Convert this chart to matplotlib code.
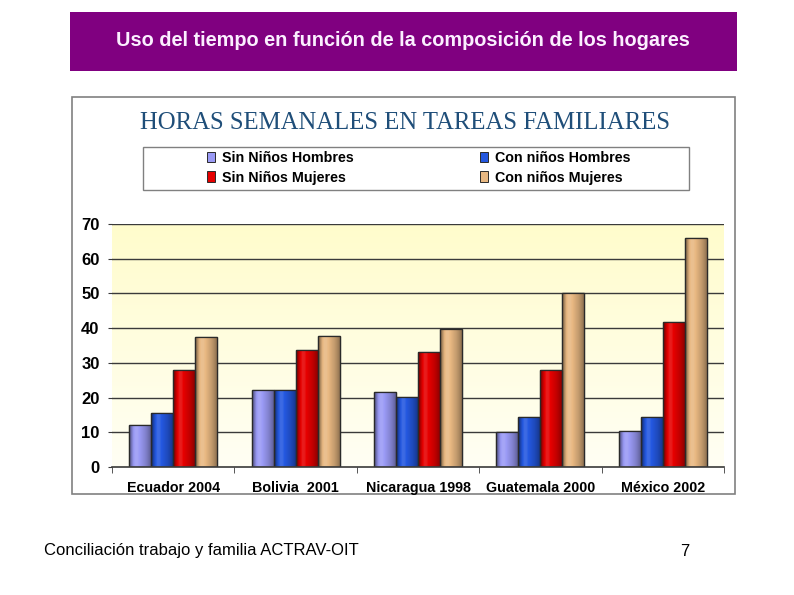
import numpy as np
import matplotlib
matplotlib.use("Agg")
import matplotlib.pyplot as plt
from matplotlib.patches import Rectangle
from matplotlib.colors import to_rgb

categories = ["Ecuador 2004", "Bolivia  2001", "Nicaragua 1998", "Guatemala 2000", "México 2002"]
series_names = ["Sin Niños Hombres", "Con niños Hombres", "Sin Niños Mujeres", "Con niños Mujeres"]
sin_ninos_hombres = [12.2, 22.1, 21.6, 10.2, 10.5]
con_ninos_hombres = [15.6, 22.1, 20.1, 14.5, 14.5]
sin_ninos_mujeres = [28.0, 33.6, 33.2, 28.0, 41.7]
con_ninos_mujeres = [37.5, 37.8, 39.8, 50.2, 66.0]
y_ticks = [0, 10, 20, 30, 40, 50, 60, 70]

series_values = [sin_ninos_hombres, con_ninos_hombres, sin_ninos_mujeres, con_ninos_mujeres]
colors = ["#9a9af5", "#2458e0", "#e60000", "#e8b882"]

W, H = 794, 595
fig = plt.figure(figsize=(W / 100, H / 100), dpi=100)
fig.patch.set_facecolor("white")

def fx(x):
    return x / W

def fy(y):
    return 1 - y / H

# Header box
fig.patches.append(Rectangle((fx(70), fy(71)), fx(737) - fx(70), fy(12) - fy(71),
                             transform=fig.transFigure, facecolor="#800080",
                             edgecolor="none", zorder=0))
fig.text(fx(403), fy(41), "Uso del tiempo en función de la composición de los hogares",
         color="#fbefff", fontsize=14.3, fontweight="bold", family="Liberation Sans",
         ha="center", va="center")

# Inner chart frame
fig.patches.append(Rectangle((fx(72), fy(494)), fx(735) - fx(72), fy(97) - fy(494),
                             transform=fig.transFigure, facecolor="white",
                             edgecolor="#808080", linewidth=1.2, zorder=0))
fig.text(fx(405), fy(123), "HORAS SEMANALES EN TAREAS FAMILIARES",
         color="#1f4e79", fontsize=17.8, family="Liberation Serif", ha="center", va="center")

# Legend box
fig.patches.append(Rectangle((fx(143), fy(190)), fx(689) - fx(143), fy(147) - fy(190),
                             transform=fig.transFigure, facecolor="white",
                             edgecolor="#808080", linewidth=1.0, zorder=1))

# Plot area
ax = fig.add_axes([fx(112), fy(467), fx(724) - fx(112), fy(224) - fy(467)])
ax.set_xlim(-0.5, len(categories) - 0.5)
ax.set_ylim(0, 70)
ax.set_zorder(2)

# yellow gradient background
grad = np.linspace(0, 1, 256).reshape(-1, 1)
top = np.array(to_rgb("#fffccc"))
bot = np.array(to_rgb("#fffff4"))
bg = bot[None, None, :] * (1 - grad[:, :, None]) + top[None, None, :] * grad[:, :, None]
ax.imshow(bg, extent=(-0.5, len(categories) - 0.5, 0, 70), origin="lower",
          aspect="auto", zorder=0)

for t in y_ticks[1:]:
    ax.axhline(t, color="#3a3a3a", linewidth=1.0, zorder=1)

x = np.arange(len(categories))
bw = 0.18
offsets = (np.arange(4) - 1.5) * bw

def shade(c, f):
    c = np.array(to_rgb(c))
    if f >= 1:
        return c + (1 - c) * (f - 1)
    return c * f

prof = np.array([0.55, 0.8, 1.0, 1.12, 1.1, 1.0, 0.95, 0.9, 0.85, 0.78, 0.7, 0.6])
for i, vals in enumerate(series_values):
    bars = ax.bar(x + offsets[i], vals, width=bw, color=colors[i],
                  edgecolor="#2a2a2a", linewidth=0.9, zorder=3)
    grad_img = np.array([shade(colors[i], f) for f in prof])[None, :, :]
    grad_img = np.clip(grad_img, 0, 1)
    for b in bars:
        im = ax.imshow(grad_img, extent=(b.get_x(), b.get_x() + b.get_width(), 0, b.get_height()),
                       aspect="auto", zorder=3.5, interpolation="bilinear")
        im.set_clip_path(b)
        ax.add_patch(Rectangle((b.get_x(), 0), b.get_width(), b.get_height(), fill=False,
                               edgecolor="#2a2a2a", linewidth=0.9, zorder=4))

ax.set_xlim(-0.5, len(categories) - 0.5)
ax.set_ylim(0, 70)
for s in ["top", "right", "left"]:
    ax.spines[s].set_visible(False)
ax.spines["bottom"].set_color("#3a3a3a")
ax.spines["bottom"].set_linewidth(1.2)
ax.spines["bottom"].set_zorder(5)

ax.set_yticks(y_ticks)
ax.set_yticklabels([str(t) for t in y_ticks], fontsize=12, fontweight="bold",
                   family="Liberation Sans")
ax.tick_params(axis="y", length=3, color="#3a3a3a", pad=6)
ax.set_xticks(x)
ax.set_xticklabels(categories, fontsize=10.3, fontweight="bold", family="Liberation Sans")
ax.tick_params(axis="x", length=0, pad=10)
ax.set_xticks(np.arange(len(categories) + 1) - 0.5, minor=True)
ax.tick_params(axis="x", which="minor", length=4, color="#3a3a3a")

# Legend
handles = [Rectangle((0, 0), 1, 1, facecolor=c, edgecolor="#2a2a2a", linewidth=0.7) for c in colors]
order = [0, 2, 1, 3]
leg = fig.legend([handles[k] for k in order], [series_names[k] for k in order],
                 ncol=2, loc="center left", bbox_to_anchor=(fx(196), fy(168)),
                 prop={"family": "Liberation Sans", "weight": "bold", "size": 10.3},
                 frameon=False,
                 handlelength=0.55, handleheight=0.7, handletextpad=0.5,
                 columnspacing=8.8, labelspacing=0.35, borderpad=0.3)
leg.set_zorder(3)

# Footer
fig.text(fx(44), fy(551), "Conciliación trabajo y familia ACTRAV-OIT", fontsize=12,
         family="Liberation Sans", ha="left", va="center")
fig.text(fx(685), fy(551), "7", fontsize=12, family="Liberation Sans", ha="center", va="center")

fig.savefig("out.png", dpi=100)
